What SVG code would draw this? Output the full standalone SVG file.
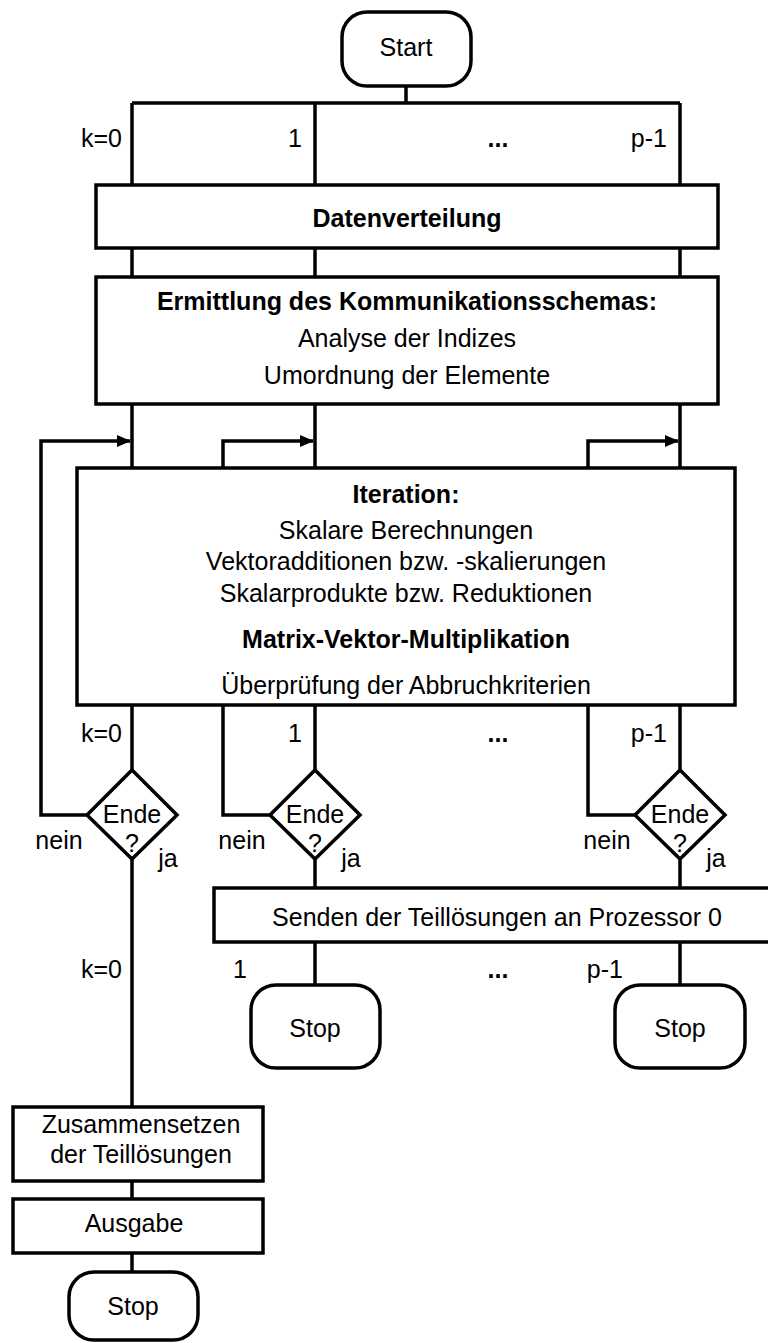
<svg xmlns="http://www.w3.org/2000/svg" width="768" height="1343" viewBox="0 0 768 1343">
<style>
text{font-family:"Liberation Sans",Arial,sans-serif;font-size:25px;fill:#000}
.b{font-weight:bold}
.m{text-anchor:middle}
.e{text-anchor:end}
.box{fill:#fff;stroke:#000;stroke-width:3.5}
.ln{fill:none;stroke:#000;stroke-width:3.5}
</style>
<defs>
<marker id="ah" markerWidth="14" markerHeight="12" refX="13" refY="6" orient="auto" markerUnits="userSpaceOnUse">
<path d="M0,0 L14,6 L0,12 Z" fill="#000"/>
</marker>
</defs>
<g id="connectors">
<path class="ln" d="M406,86 V103 M132,103 H680 M132,103 V185 M315,103 V185 M680,103 V185"/>
<path class="ln" d="M132,248 V277 M315,248 V277 M680,248 V277"/>
<path class="ln" d="M132,404 V468 M315,404 V468 M680,404 V468"/>
<path class="ln" d="M88,815 H41 V441 H130" marker-end="url(#ah)"/>
<path class="ln" d="M271,815 H223 V441 H313" marker-end="url(#ah)"/>
<path class="ln" d="M636,815 H588 V441 H678" marker-end="url(#ah)"/>
<path class="ln" d="M132,705 V770 M315,705 V770 M680,705 V770"/>
<path class="ln" d="M132,859 V1107 M315,859 V888 M680,859 V888"/>
<path class="ln" d="M315,942 V985 M680,942 V985"/>
<path class="ln" d="M132,1181 V1199 M132,1253 V1272"/>
</g>
<g id="labels">
<text class="e" x="122" y="147">k=0</text>
<text class="e" x="302" y="147">1</text>
<text class="m b" x="498" y="147">...</text>
<text class="e" x="667" y="147">p-1</text>
<text class="e" x="122" y="742">k=0</text>
<text class="e" x="302" y="742">1</text>
<text class="m b" x="498" y="742">...</text>
<text class="e" x="667" y="742">p-1</text>
<text class="e" x="122" y="978">k=0</text>
<text class="m" x="240" y="978">1</text>
<text class="m b" x="498" y="978">...</text>
<text class="e" x="623" y="978">p-1</text>
<text class="m" x="59" y="849">nein</text>
<text class="m" x="168" y="867">ja</text>
<text class="m" x="242" y="849">nein</text>
<text class="m" x="351" y="867">ja</text>
<text class="m" x="607" y="849">nein</text>
<text class="m" x="716" y="867">ja</text>
</g>
<g id="start">
<rect class="box" x="342" y="12" width="129" height="74" rx="25"/>
<text class="m" x="406" y="56">Start</text>
</g>
<g id="datenverteilung">
<rect class="box" x="96" y="185" width="622" height="63"/>
<text class="m b" x="407" y="227">Datenverteilung</text>
</g>
<g id="ermittlung">
<rect class="box" x="96" y="277" width="622" height="127"/>
<text class="m b" x="407" y="310">Ermittlung des Kommunikationsschemas:</text>
<text class="m" x="407" y="347">Analyse der Indizes</text>
<text class="m" x="407" y="384">Umordnung der Elemente</text>
</g>
<g id="iteration">
<rect class="box" x="77" y="468" width="658" height="237"/>
<text class="m b" x="406" y="503">Iteration:</text>
<text class="m" x="406" y="539">Skalare Berechnungen</text>
<text class="m" x="406" y="570">Vektoradditionen bzw. -skalierungen</text>
<text class="m" x="406" y="602">Skalarprodukte bzw. Reduktionen</text>
<text class="m b" x="406" y="648">Matrix-Vektor-Multiplikation</text>
<text class="m" x="406" y="694">Überprüfung der Abbruchkriterien</text>
</g>
<g id="ende0">
<path class="box" d="M132,770 L177,815 L132,859 L87,815 Z"/>
<text class="m" x="132" y="823">Ende</text>
<text class="m" x="132" y="852">?</text>
</g>
<g id="ende1">
<path class="box" d="M315,770 L360,815 L315,859 L270,815 Z"/>
<text class="m" x="315" y="823">Ende</text>
<text class="m" x="315" y="852">?</text>
</g>
<g id="endep">
<path class="box" d="M680,770 L725,815 L680,859 L635,815 Z"/>
<text class="m" x="680" y="823">Ende</text>
<text class="m" x="680" y="852">?</text>
</g>
<g id="senden">
<rect class="box" x="214" y="888" width="570" height="54"/>
<text class="m" x="497" y="926">Senden der Teillösungen an Prozessor 0</text>
</g>
<g id="stop1">
<rect class="box" x="251" y="985" width="129" height="83" rx="25"/>
<text class="m" x="315" y="1037">Stop</text>
</g>
<g id="stopp">
<rect class="box" x="615" y="985" width="130" height="83" rx="25"/>
<text class="m" x="680" y="1037">Stop</text>
</g>
<g id="zusammensetzen">
<rect class="box" x="13" y="1107" width="250" height="74"/>
<text class="m" x="141" y="1133">Zusammensetzen</text>
<text class="m" x="141" y="1163">der Teillösungen</text>
</g>
<g id="ausgabe">
<rect class="box" x="13" y="1199" width="250" height="54"/>
<text class="m" x="134" y="1232">Ausgabe</text>
</g>
<g id="stop0">
<rect class="box" x="69" y="1272" width="129" height="68" rx="25"/>
<text class="m" x="133" y="1315">Stop</text>
</g>
</svg>
